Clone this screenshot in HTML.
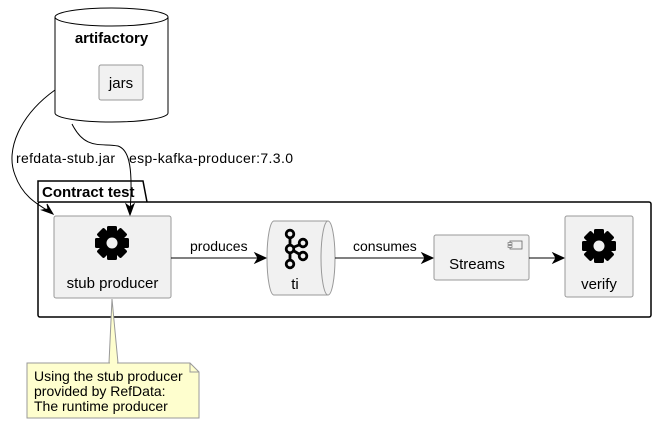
<!DOCTYPE html>
<html><head><meta charset="utf-8"><style>
html,body{margin:0;padding:0;background:#fff;}
svg{display:block;font-family:"Liberation Sans","DejaVu Sans",sans-serif;}
</style></head><body>
<svg width="655" height="424" viewBox="0 0 655 424" xmlns="http://www.w3.org/2000/svg">
<defs>
<g id="gear">
  <g fill="#000">
    <circle cx="0" cy="0" r="12"/>
    <rect x="-5" y="-17" width="10" height="34" rx="1.5"/>
    <rect x="-5" y="-17" width="10" height="34" rx="1.5" transform="rotate(45)"/>
    <rect x="-5" y="-17" width="10" height="34" rx="1.5" transform="rotate(90)"/>
    <rect x="-5" y="-17" width="10" height="34" rx="1.5" transform="rotate(135)"/>
  </g>
  <circle cx="0" cy="0" r="5.5" fill="#f1f1f1"/>
</g>
</defs>
<!-- artifactory cylinder -->
<path d="M55,17 L55,113 A56.5,9 0 0 0 168,113 L168,17" fill="#fff" stroke="#000" stroke-width="1"/>
<ellipse cx="111.5" cy="17" rx="56.5" ry="9" fill="#fff" stroke="#000"/>
<text x="111.5" y="43" font-size="15" font-weight="bold" text-anchor="middle">artifactory</text>
<rect x="99" y="65" width="44" height="35" rx="2" fill="#f1f1f1" stroke="#999"/>
<text x="121" y="88" font-size="15" text-anchor="middle">jars</text>

<!-- package -->
<path d="M38,202 L38,181 L143,181 L147,202" fill="#fff" stroke="#000" stroke-width="1.5"/>
<rect x="38" y="202" width="613" height="115" rx="2" fill="#fff" stroke="#000" stroke-width="1.5"/>
<text x="42" y="197" font-size="15" font-weight="bold">Contract test</text>

<!-- curves from artifactory -->
<path d="M55,90 C20,115 5,150 15,175 C22,195 35,203 50,212" fill="none" stroke="#000"/>
<path d="M42,210 L53,214 L47,204 L48,209 Z" fill="#000" stroke="#000"/>
<path d="M72,124 C85,150 100,143 118,146 C130,150 133,170 130,212" fill="none" stroke="#000"/>
<path d="M126,204 L130,215 L134,204 L130,207 Z" fill="#000" stroke="#000"/>
<text x="16" y="163" font-size="14" textLength="99">refdata-stub.jar</text>
<text x="129" y="163" font-size="14" textLength="164">esp-kafka-producer:7.3.0</text>

<!-- stub producer -->
<rect x="54" y="216" width="117" height="82" rx="2" fill="#f1f1f1" stroke="#999"/>
<use href="#gear" x="112" y="243"/>
<text x="112.5" y="288" font-size="15" text-anchor="middle">stub producer</text>

<!-- produces -->
<line x1="171" y1="258" x2="264" y2="258" stroke="#000"/>
<path d="M255,253 L266,258 L255,263 L258,258 Z" fill="#000" stroke="#000"/>
<text x="190" y="251" font-size="14">produces</text>

<!-- ti queue -->
<path d="M274,221 L328,221 A7,37 0 0 1 328,295 L274,295 A7,37 0 0 1 274,221 Z" fill="#f1f1f1" stroke="#999"/>
<path d="M328,221 A7,37 0 0 0 328,295" fill="none" stroke="#999"/>
<g fill="none" stroke="#000" stroke-width="2.8">
  <circle cx="290" cy="234" r="3.8"/>
  <circle cx="290" cy="249" r="3.8"/>
  <circle cx="290" cy="264" r="3.8"/>
  <circle cx="303" cy="243" r="3.8"/>
  <circle cx="303" cy="256" r="3.8"/>
  <line x1="290" y1="238" x2="290" y2="245"/>
  <line x1="290" y1="253" x2="290" y2="260"/>
  <line x1="294" y1="247" x2="299" y2="245"/>
  <line x1="294" y1="251" x2="299" y2="254"/>
</g>
<text x="295" y="289" font-size="15" text-anchor="middle">ti</text>

<!-- consumes -->
<line x1="335" y1="258" x2="431" y2="258" stroke="#000"/>
<path d="M422,253 L433,258 L422,263 L425,258 Z" fill="#000" stroke="#000"/>
<text x="353" y="251" font-size="14">consumes</text>

<!-- Streams -->
<rect x="434" y="235" width="95" height="45" rx="2" fill="#f1f1f1" stroke="#999"/>
<rect x="510" y="241" width="12" height="8" fill="#f1f1f1" stroke="#666" stroke-width="0.8"/>
<rect x="508" y="242.5" width="4" height="2" fill="#f1f1f1" stroke="#666" stroke-width="0.6"/>
<rect x="508" y="245.5" width="4" height="2" fill="#f1f1f1" stroke="#666" stroke-width="0.6"/>
<text x="477" y="269" font-size="15" text-anchor="middle">Streams</text>

<line x1="529" y1="258" x2="562" y2="258" stroke="#000"/>
<path d="M553,253 L564,258 L553,263 L556,258 Z" fill="#000" stroke="#000"/>

<!-- verify -->
<rect x="565" y="216" width="68" height="81" rx="2" fill="#f1f1f1" stroke="#999"/>
<use href="#gear" x="599" y="246"/>
<text x="599" y="289" font-size="15" text-anchor="middle">verify</text>

<!-- note -->
<path d="M112,299 L109,363 L118,363 Z" fill="#fefece" stroke="#999"/>
<path d="M27,363 L190,363 L199,372 L199,418 L27,418 Z" fill="#fefece" stroke="#999"/>
<path d="M190,363 L190,372 L199,372" fill="none" stroke="#999"/>
<line x1="110" y1="363" x2="117" y2="363" stroke="#fefece" stroke-width="2"/>
<text x="34" y="381" font-size="14">Using the stub producer</text>
<text x="34" y="396" font-size="14">provided by RefData:</text>
<text x="34" y="411" font-size="14">The runtime producer</text>
</svg>
</body></html>
